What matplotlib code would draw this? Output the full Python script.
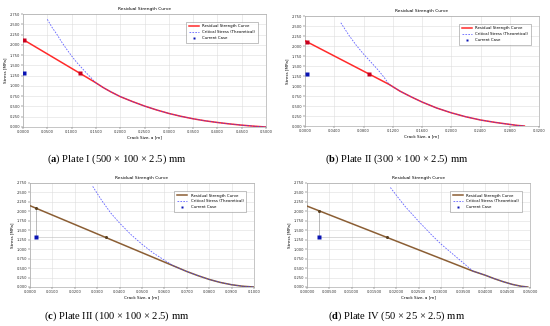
import matplotlib.pyplot as plt
from matplotlib.ticker import MultipleLocator, FormatStrFormatter

plt.rcParams['font.family'] = ['DejaVu Sans']
plt.rcParams['mathtext.fontset'] = 'custom'
plt.rcParams['mathtext.rm'] = 'Liberation Serif'
plt.rcParams['mathtext.bf'] = 'Liberation Serif:bold'

# ---- data ----
# Plate I
a_res_x = [0.0, 0.148, 0.165, 0.18, 0.20, 0.225, 0.25, 0.275, 0.30, 0.325, 0.35,
           0.375, 0.40, 0.425, 0.45, 0.475, 0.50]
a_res_y = [2.13, 1.09, 0.96, 0.86, 0.74, 0.62, 0.51, 0.415, 0.33, 0.26, 0.20,
           0.15, 0.11, 0.075, 0.045, 0.02, 0.0]
a_crit_x = [0.050, 0.060, 0.070, 0.080, 0.090, 0.100, 0.110, 0.120, 0.130, 0.140, 0.148,
            0.165, 0.18, 0.20, 0.225, 0.25, 0.275, 0.30, 0.325, 0.35,
            0.375, 0.40, 0.425, 0.45, 0.475, 0.50]
a_crit_y = [2.62, 2.42, 2.25, 2.06, 1.89, 1.73, 1.58, 1.45, 1.32, 1.20, 1.09,
            0.96, 0.86, 0.74, 0.62, 0.51, 0.415, 0.33, 0.26, 0.20,
            0.15, 0.11, 0.075, 0.045, 0.02, 0.0]
a_mark_x = [0.003, 0.117]
a_mark_y = [2.11, 1.31]
a_case = (0.002, 1.31)

# Plate II
b_res_x = [0.0, 0.115, 0.13, 0.145, 0.16, 0.18, 0.20, 0.22, 0.24, 0.26, 0.28, 0.29, 0.30]
b_res_y = [2.13, 1.04, 0.87, 0.73, 0.60, 0.45, 0.33, 0.23, 0.15, 0.09, 0.04, 0.015, 0.0]
b_crit_x = [0.049, 0.060, 0.070, 0.080, 0.090, 0.100, 0.108, 0.115,
            0.13, 0.145, 0.16, 0.18, 0.20, 0.22, 0.24, 0.26, 0.28, 0.29, 0.30]
b_crit_y = [2.58, 2.27, 2.02, 1.80, 1.60, 1.40, 1.22, 1.04,
            0.87, 0.73, 0.60, 0.45, 0.33, 0.23, 0.15, 0.09, 0.04, 0.015, 0.0]
b_mark_x = [0.003, 0.087]
b_mark_y = [2.11, 1.31]
b_case = (0.003, 1.31)

# Plate III
c_res_x = [0.0, 0.064, 0.070, 0.075, 0.080, 0.085, 0.090, 0.095, 0.100]
c_res_y = [2.15, 0.56, 0.41, 0.30, 0.20, 0.12, 0.06, 0.02, 0.0]
c_crit_x = [0.028, 0.032, 0.036, 0.040, 0.045, 0.050, 0.055, 0.060, 0.064,
            0.070, 0.075, 0.080, 0.085, 0.090, 0.095, 0.100]
c_crit_y = [2.66, 2.29, 1.96, 1.69, 1.39, 1.13, 0.90, 0.71, 0.56,
            0.41, 0.30, 0.20, 0.12, 0.06, 0.02, 0.0]
c_mark_x = [0.0025, 0.0339]
c_mark_y = [2.08, 1.31]
c_case = (0.0025, 1.31)

# Plate IV
d_res_x = [0.0, 0.0372, 0.040, 0.042, 0.044, 0.046, 0.048, 0.0495]
d_res_y = [2.14, 0.42, 0.31, 0.22, 0.14, 0.07, 0.02, 0.0]
d_crit_x = [0.0187, 0.020, 0.022, 0.025, 0.028, 0.030, 0.033, 0.035, 0.0372,
            0.040, 0.042, 0.044, 0.046, 0.048, 0.0495]
d_crit_y = [2.63, 2.43, 2.13, 1.74, 1.37, 1.14, 0.84, 0.64, 0.42,
            0.31, 0.22, 0.14, 0.07, 0.02, 0.0]
d_mark_x = [0.0027, 0.0179]
d_mark_y = [2.02, 1.31]
d_case = (0.0027, 1.31)

captions = [
    ('a', 'Plate I (500 × 100 × 2.5) mm'),
    ('b', 'Plate II (300 × 100 × 2.5) mm'),
    ('c', 'Plate III (100 × 100 × 2.5) mm'),
    ('d', 'Plate IV (50 × 25 × 2.5) mm'),
]

W, H = 550, 326


def rect(left, right, top, bottom):
    # pixel box -> figure fraction
    return [left / W, 1 - bottom / H, (right - left) / W, (bottom - top) / H]


def draw_panel(ax, res_x, res_y, crit_x, crit_y, mark_x, mark_y, case,
               xmax, xstep, xfmt, line_color, mark_color, guides):
    ax.plot(res_x, res_y, color=line_color, lw=1.1, label='Residual Strength Curve', zorder=3)
    ax.plot(crit_x, crit_y, color='#3c3cff', lw=0.6, ls=(0, (2, 1.5)), alpha=0.8,
            label='Critical Stress (Theoretical)', zorder=4)
    ax.plot(case[0], case[1], 's', color='#0a14b4', ms=2.2, mec='none',
            label='Current Case', zorder=6)
    ax.plot(mark_x, mark_y, 's' if not guides else 'o', color=mark_color, ms=2.2,
            mec='none', zorder=5)
    if guides:
        ax.plot([mark_x[0], case[0]], [mark_y[0], case[1]], color='#888888', lw=0.4, zorder=2)
        ax.plot([case[0], mark_x[1]], [case[1], mark_y[1]], color='#bbbbbb', lw=0.4, zorder=2)

    ax.set_xlim(0, xmax)
    ax.set_ylim(0, 2.75)
    ax.xaxis.set_major_locator(MultipleLocator(xstep))
    ax.yaxis.set_major_locator(MultipleLocator(0.25))
    ax.xaxis.set_major_formatter(FormatStrFormatter(xfmt))
    ax.yaxis.set_major_formatter(FormatStrFormatter('%.3f'))
    ax.tick_params(labelsize=2.6, length=1.2, width=0.3, pad=1, colors='#333333')
    ax.grid(True, color='#dddddd', lw=0.4)
    for s in ax.spines.values():
        s.set_color('#999999')
        s.set_linewidth(0.4)
    ax.set_title('Residual Strength Curve', fontsize=3.2, pad=3)
    ax.set_xlabel('Crack Size, a [m]', fontsize=3, labelpad=1)
    ax.set_ylabel('Stress [MPa]', fontsize=3, labelpad=1.5)
    leg = ax.legend(loc='upper right', fontsize=2.8, frameon=True, fancybox=False,
                    borderpad=0.7, handlelength=2.6, handletextpad=0.9, labelspacing=0.45,
                    borderaxespad=2.0, edgecolor='#777777', markerscale=0.8)
    leg.get_frame().set_linewidth(0.4)


def main():
    fig = plt.figure(figsize=(5.5, 3.26), dpi=100)

    ax_a = fig.add_axes(rect(23, 266, 14, 127))
    ax_b = fig.add_axes(rect(305, 539, 16, 126))
    ax_c = fig.add_axes(rect(30, 254, 183, 287))
    ax_d = fig.add_axes(rect(307, 530, 183, 287))

    draw_panel(ax_a, a_res_x, a_res_y, a_crit_x, a_crit_y, a_mark_x, a_mark_y, a_case,
               0.5, 0.05, '%.4f', '#ff2a2a', '#c8001e', False)
    draw_panel(ax_b, b_res_x, b_res_y, b_crit_x, b_crit_y, b_mark_x, b_mark_y, b_case,
               0.32, 0.04, '%.4f', '#ff2a2a', '#c8001e', False)
    draw_panel(ax_c, c_res_x, c_res_y, c_crit_x, c_crit_y, c_mark_x, c_mark_y, c_case,
               0.1, 0.01, '%.4f', '#8b5e34', '#5a4020', True)
    draw_panel(ax_d, d_res_x, d_res_y, d_crit_x, d_crit_y, d_mark_x, d_mark_y, d_case,
               0.05, 0.005, '%.5f', '#8b5e34', '#5a4020', True)

    # captions under each panel
    cap_pos = [(117, 159), (397, 159), (117, 316), (397, 316)]
    for (letter, text), (px, py) in zip(captions, cap_pos):
        fig.text(px / W, 1 - py / H, '(' + r'$\mathbf{' + letter + r'}$' + ') ' + text,
                 ha='center', va='center', fontsize=7.6, family='Liberation Serif')

    plt.savefig('out.png', dpi=100)


if __name__ == "__main__":
    main()
